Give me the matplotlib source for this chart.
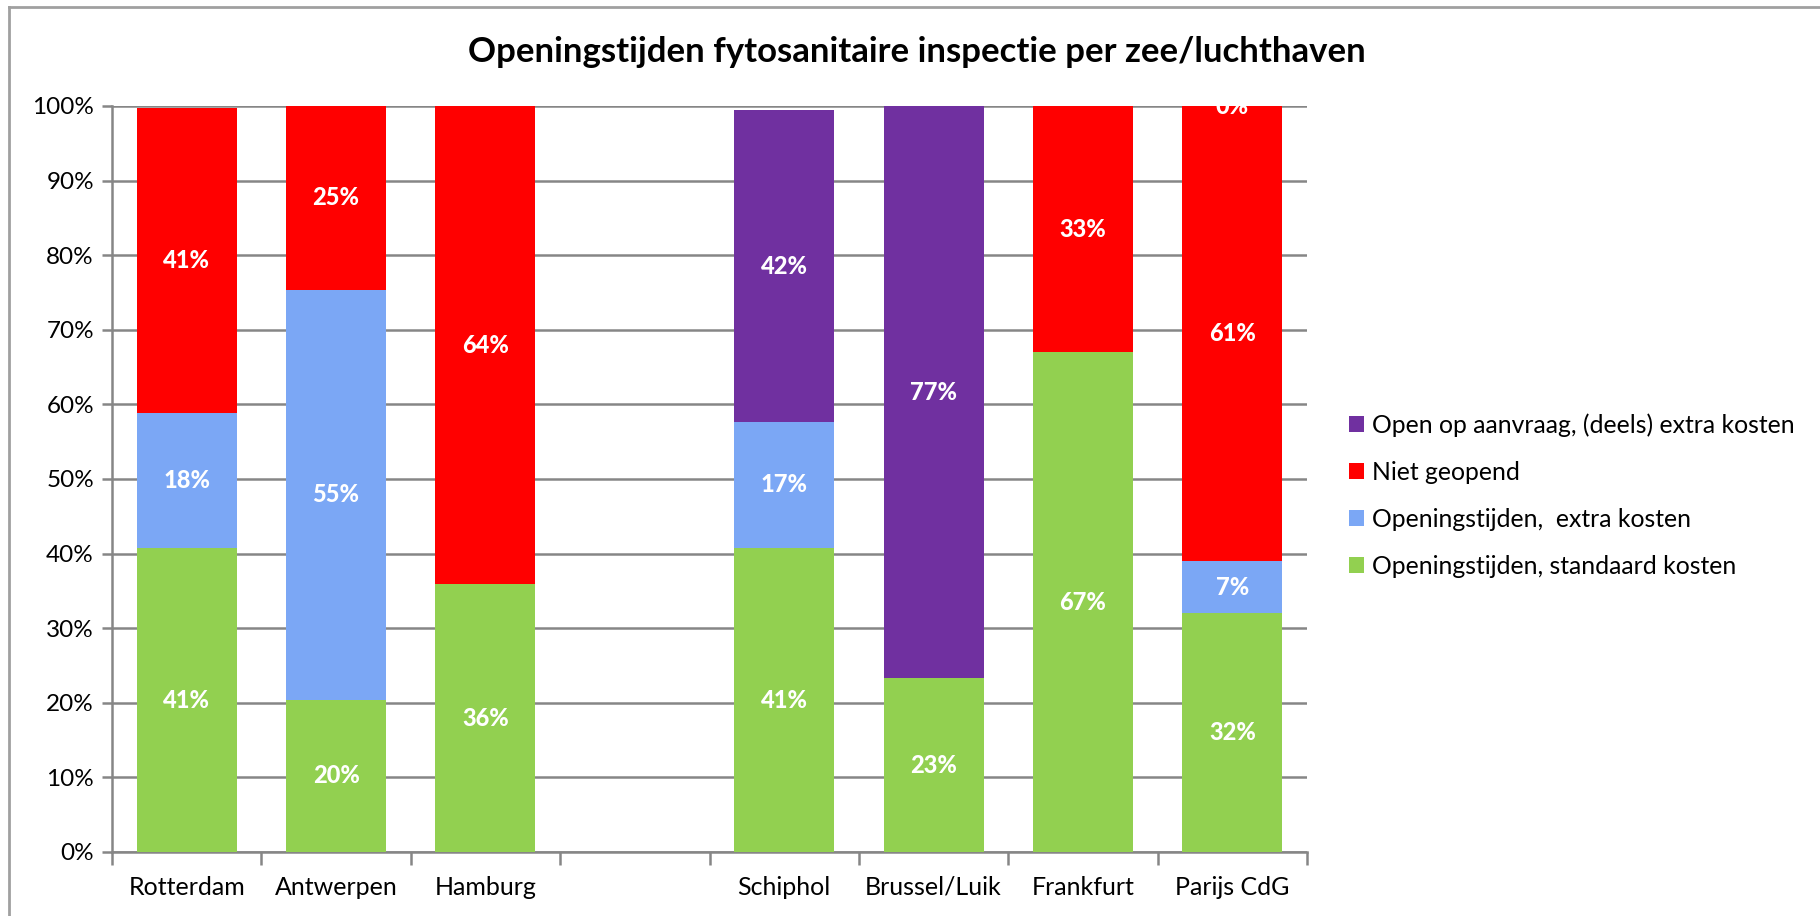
import matplotlib
matplotlib.use("Agg")
import matplotlib.pyplot as plt
import numpy as np
from matplotlib.lines import Line2D

plt.rcParams['font.family'] = ['Lato', 'DejaVu Sans']

categories = ["Rotterdam", "Antwerpen", "Hamburg", "", "Schiphol", "Brussel/Luik", "Frankfurt", "Parijs CdG"]
series_names = ["Openingstijden, standaard kosten", "Openingstijden,  extra kosten",
                "Niet geopend", "Open op aanvraag, (deels) extra kosten"]
standaard = [40.7, 20.4, 35.9, np.nan, 40.7, 23.3, 67.0, 32.0]
extra = [18.1, 55.0, np.nan, np.nan, 17.0, np.nan, np.nan, 7.0]
niet_geopend = [40.9, 24.6, 64.1, np.nan, np.nan, np.nan, 33.0, 61.0]
op_aanvraag = [np.nan, np.nan, np.nan, np.nan, 41.7, 76.7, np.nan, 0.0]
colors = ["#92D050", "#7BA7F5", "#FF0000", "#7030A0"]
yticks = [0, 10, 20, 30, 40, 50, 60, 70, 80, 90, 100]
title = "Openingstijden fytosanitaire inspectie per zee/luchthaven"

W, H = 1820, 916
fig = plt.figure(figsize=(W / 100, H / 100), dpi=100)
ax = fig.add_axes([112 / W, 1 - 852 / H, (1307 - 112) / W, (852 - 106) / H])

x = np.arange(len(categories))
bottom = np.zeros(len(categories))
grey = "#868686"
for vals, col, name in zip([standaard, extra, niet_geopend, op_aanvraag], colors, series_names):
    v = np.array(vals, dtype=float)
    mask = ~np.isnan(v)
    h = np.where(mask, v, 0.0)
    ax.bar(x[mask], h[mask], bottom=bottom[mask], width=0.67, color=col, zorder=3, label=name)
    for xi, hi, bi in zip(x[mask], h[mask], bottom[mask]):
        ax.text(xi, bi + hi / 2, f"{round(hi)}%", ha="center", va="center", color="white",
                fontsize=17, fontweight="black", zorder=4, clip_on=True)
    bottom = bottom + h

ax.set_xlim(-0.5, len(categories) - 0.5)
ax.set_ylim(0, 100)
ax.set_yticks(yticks)
ax.set_yticklabels([f"{t}%" for t in yticks], fontsize=17.5)
ax.yaxis.grid(True, color=grey, linewidth=1.8, zorder=0)
ax.set_axisbelow(True)
ax.set_xticks(x)
ax.set_xticklabels(categories, fontsize=18)
ax.tick_params(axis="x", length=0, pad=17)
ax.set_xticks(np.arange(-0.5, len(categories) + 0.5, 1), minor=True)
ax.tick_params(axis="x", which="minor", length=9, width=1.8, color=grey)
ax.tick_params(axis="y", length=7, width=1.8, color=grey, pad=6)
for s in ["top", "right"]:
    ax.spines[s].set_visible(False)
for s in ["left", "bottom"]:
    ax.spines[s].set_color(grey)
    ax.spines[s].set_linewidth(1.8)

fig.text(917 / W, 1 - 52 / H, title, ha="center", va="center", fontsize=25, fontweight="bold")

handles, labels = ax.get_legend_handles_labels()
leg = fig.legend(handles[::-1], labels[::-1], loc="upper left",
                 bbox_to_anchor=(1349 / W, 1 - 413 / H), frameon=False, fontsize=17.8,
                 handlelength=0.62, handleheight=0.62, handletextpad=0.3, labelspacing=0.97,
                 borderaxespad=0, borderpad=0)

# chart border
fig.add_artist(Line2D([9 / W, 9 / W], [0, 1 - 7 / H], color="#A0A0A0", linewidth=2, transform=fig.transFigure))
fig.add_artist(Line2D([9 / W, 1], [1 - 7 / H, 1 - 7 / H], color="#A0A0A0", linewidth=2, transform=fig.transFigure))

fig.savefig("out.png", dpi=100)
